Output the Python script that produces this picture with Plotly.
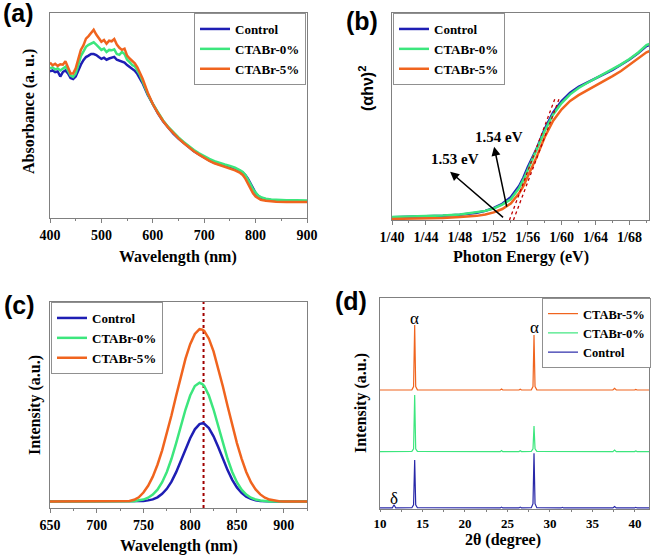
import plotly.graph_objects as go

# ---------------- (a) Absorbance ----------------
wl_a = [400, 405, 410, 415, 420, 425, 430, 435, 440, 445, 450, 455, 460, 465, 470, 475, 480, 485, 490, 495,
        500, 505, 510, 515, 520, 525, 530, 535, 540, 545, 550, 555, 560, 565, 570, 575, 580,
        590, 600, 610, 620, 630, 640, 650, 660, 670, 680, 690, 700, 710, 720, 730, 740, 750, 760,
        770, 775, 780, 785, 790, 795, 800, 805, 810, 820, 830, 840, 860, 880, 900]
abs_control = [.715, .72, .712, .715, .69, .712, .72, .705, .683, .678, .69, .72, .748, .77, .785, .792, .80, .80, .795, .785,
               .776, .782, .772, .778, .783, .786, .772, .766, .762, .758, .746, .736, .727, .718, .702, .682, .658,
               .602, .553, .51, .472, .44, .412, .388, .366, .345, .326, .31, .294, .281, .269, .26, .253, .246, .238,
               .228, .222, .21, .192, .168, .142, .122, .108, .099, .09, .086, .084, .082, .081, .08]
abs_ctab0 = [.73, .735, .725, .73, .72, .73, .738, .72, .695, .688, .705, .745, .79, .812, .835, .845, .852, .857, .846, .835,
             .82, .826, .81, .82, .818, .823, .80, .796, .81, .80, .772, .76, .746, .74, .72, .698, .668,
             .606, .556, .514, .476, .444, .417, .393, .371, .35, .332, .316, .301, .288, .277, .268, .261, .254, .245,
             .232, .224, .21, .19, .165, .14, .122, .11, .102, .094, .09, .088, .087, .086, .085]
abs_ctab5 = [.758, .745, .752, .742, .75, .748, .765, .735, .705, .705, .73, .775, .82, .842, .875, .887, .905, .918, .895, .877,
             .86, .868, .85, .865, .862, .873, .846, .83, .82, .826, .792, .778, .765, .755, .735, .71, .68,
             .612, .556, .512, .473, .441, .413, .388, .366, .345, .326, .309, .293, .279, .267, .258, .25, .242, .232,
             .22, .21, .192, .168, .142, .12, .105, .095, .089, .084, .081, .079, .078, .078, .078]

# ---------------- (b) Tauc plot ----------------
energy_b = [1.40, 1.42, 1.44, 1.46, 1.48, 1.50, 1.51, 1.52, 1.53, 1.54, 1.55, 1.555, 1.56, 1.57, 1.58, 1.59,
            1.60, 1.61, 1.62, 1.63, 1.64, 1.65, 1.66, 1.67, 1.68, 1.69, 1.70, 1.71]
tauc_control = [.013, .015, .017, .02, .025, .035, .044, .058, .078, .11, .165, .205, .255, .34, .44, .52,
                .575, .615, .643, .665, .685, .705, .725, .75, .775, .805, .84, .855]
tauc_ctab0 = [.015, .017, .019, .022, .027, .036, .044, .056, .074, .10, .155, .195, .243, .33, .43, .51,
              .565, .607, .638, .662, .684, .705, .727, .752, .778, .808, .845, .86]
tauc_ctab5 = [.005, .006, .008, .01, .014, .02, .027, .037, .053, .08, .13, .165, .21, .30, .40, .48,
              .535, .575, .603, .625, .648, .67, .695, .72, .75, .78, .81, .825]
tangent1_x = [1.5385, 1.592]
tangent1_y = [0.0, 0.585]
tangent2_x = [1.5432, 1.597]
tangent2_y = [0.0, 0.585]
tick_b_vals = [1.40, 1.44, 1.48, 1.52, 1.56, 1.60, 1.64, 1.68]
tick_b_text = ["1/40", "1/44", "1/48", "1/52", "1/56", "1/60", "1/64", "1/68"]

# ---------------- (c) PL ----------------
wl_c = [650, 700, 725, 730, 735, 740, 745, 750, 755, 760, 765, 770, 775, 780, 785, 790, 795, 800, 805, 810, 813,
        815, 820, 825, 830, 835, 840, 845, 850, 855, 860, 865, 870, 875, 880, 885, 890, 895, 900, 925]
pl_control = [.031, .031, .031, .031, .031, .031, .031, .034, .037, .042, .052, .069, .093, .128, .174, .227, .284, .339, .382, .407, .411,
              .409, .388, .348, .296, .238, .184, .137, .10, .073, .055, .044, .037, .034, .032, .031, .031, .031, .031, .031]
pl_ctab0 = [.031, .031, .031, .031, .032, .033, .038, .041, .050, .065, .089, .125, .175, .239, .315, .397, .478, .546, .592, .608, .602,
            .592, .546, .478, .397, .315, .239, .175, .125, .089, .065, .050, .041, .036, .033, .032, .031, .031, .031, .031]
pl_ctab5 = [.031, .031, .031, .032, .034, .04, .052, .075, .108, .152, .21, .28, .36, .45, .545, .64, .725, .795, .845, .868, .866,
            .86, .822, .76, .68, .59, .495, .40, .315, .24, .175, .125, .09, .066, .05, .041, .036, .033, .031, .031]
pl_peak_line_x = [814.3, 814.3]
pl_peak_line_y = [0.0, 1.0]

# ---------------- (d) XRD ----------------
two_theta = [10.0, 11.45, 11.65, 11.85, 13.75, 13.95, 14.08, 14.2, 14.4, 24.15, 24.3, 24.45, 26.35, 26.5, 26.65,
             27.8, 28.0, 28.12, 28.24, 28.45, 31.3, 31.45, 31.6, 37.4, 37.6, 37.8, 39.95, 40.1, 40.25, 41.65]
xrd_control = [.005, .005, .02, .005, .006, .02, .232, .02, .006, .005, .009, .005, .005, .009, .005,
               .006, .025, .264, .025, .006, .005, .008, .005, .005, .012, .005, .005, .008, .005, .005]
xrd_ctab0 = [.272, .272, .272, .272, .273, .285, .540, .285, .273, .272, .277, .272, .272, .276, .272,
             .273, .285, .393, .285, .273, .272, .275, .272, .272, .279, .272, .272, .275, .272, .272]
xrd_ctab5 = [.564, .564, .564, .564, .565, .58, .872, .58, .565, .564, .569, .564, .564, .568, .564,
             .565, .58, .825, .58, .565, .564, .567, .564, .564, .572, .564, .564, .567, .564, .564]

BLUE = "#1E1EB4"
GREEN = "#3CE67D"
ORANGE = "#F0641E"
BLUE_D = "#2828A8"
SERIF = "Liberation Serif"
SANS = "Liberation Sans"

fig = go.Figure()

def add(x, y, name, color, xa, ya, leg, width=2.5, show=True, dash=None):
    fig.add_trace(go.Scatter(x=x, y=y, name=name, mode="lines",
                             line=dict(color=color, width=width, dash=dash),
                             xaxis=xa, yaxis=ya, legend=leg, showlegend=show))

add(wl_a, abs_control, "Control", BLUE, "x", "y", "legend")
add(wl_a, abs_ctab0, "CTABr-0%", GREEN, "x", "y", "legend")
add(wl_a, abs_ctab5, "CTABr-5%", ORANGE, "x", "y", "legend")

add(energy_b, tauc_control, "Control", BLUE, "x2", "y2", "legend2")
add(energy_b, tauc_ctab0, "CTABr-0%", GREEN, "x2", "y2", "legend2")
add(energy_b, tauc_ctab5, "CTABr-5%", ORANGE, "x2", "y2", "legend2")
add(tangent1_x, tangent1_y, "t1", "#C00000", "x2", "y2", "legend2", width=1.3, show=False, dash="dot")
add(tangent2_x, tangent2_y, "t2", "#C00000", "x2", "y2", "legend2", width=1.3, show=False, dash="dot")

add(pl_peak_line_x, pl_peak_line_y, "peak", "#A00000", "x3", "y3", "legend3", width=2, show=False, dash="dot")
add(wl_c, pl_control, "Control", BLUE, "x3", "y3", "legend3")
add(wl_c, pl_ctab0, "CTABr-0%", GREEN, "x3", "y3", "legend3")
add(wl_c, pl_ctab5, "CTABr-5%", ORANGE, "x3", "y3", "legend3")

add(two_theta, xrd_ctab5, "CTABr-5%", ORANGE, "x4", "y4", "legend4", width=1.2)
add(two_theta, xrd_ctab0, "CTABr-0%", GREEN, "x4", "y4", "legend4", width=1.2)
add(two_theta, xrd_control, "Control", BLUE_D, "x4", "y4", "legend4", width=1.2)

W, H = 652, 557
def px(x):
    return x / W
def py(y):
    return 1 - y / H

tickfont = dict(family=SERIF, size=14, color="black", weight="bold")
base_x = dict(showline=True, mirror=True, linecolor="#808080", linewidth=1, ticks="outside",
              tickcolor="#808080", showgrid=False, zeroline=False)
common_y = dict(showline=True, mirror=True, linecolor="#808080", linewidth=1, ticks="",
                showticklabels=False, showgrid=False, zeroline=False, range=[0, 1])
def minor(d, t0=None):
    m = dict(ticks="outside", ticklen=2, tickcolor="#808080", dtick=d)
    if t0 is not None:
        m["tick0"] = t0
    return m

legfont = dict(family=SERIF, size=13, color="black", weight="bold")
legcommon = dict(bgcolor="white", bordercolor="#909090", borderwidth=1,
                 itemwidth=30, tracegroupgap=0, yanchor="top")

fig.update_layout(
    width=W, height=H, margin=dict(l=0, r=0, t=0, b=0, autoexpand=False),
    paper_bgcolor="white", plot_bgcolor="white",
    xaxis=dict(domain=[px(50), px(307)], anchor="y", range=[400, 900], dtick=100, minor=minor(50),
               ticklen=4, tickfont=tickfont, **base_x),
    yaxis=dict(domain=[py(218), py(13)], anchor="x", **common_y),
    xaxis2=dict(domain=[px(392), px(649)], anchor="y2", range=[1.40, 1.703], tickvals=tick_b_vals,
                ticktext=tick_b_text, minor=minor(0.02, 1.40), ticklen=4, tickfont=tickfont, **base_x),
    yaxis2=dict(domain=[py(220), py(13)], anchor="x2", **common_y),
    xaxis3=dict(domain=[px(50), px(307)], anchor="y3", range=[650, 925], dtick=50, tick0=650,
                minor=minor(25), ticklen=4, tickfont=tickfont, **base_x),
    yaxis3=dict(domain=[py(508), py(302)], anchor="x3", **common_y),
    xaxis4=dict(domain=[px(380), px(649)], anchor="y4", range=[10, 41.65], dtick=5, tick0=10,
                minor=minor(2.5), ticklen=2, tickfont=dict(family=SERIF, size=13, color="black", weight="bold"),
                **base_x),
    yaxis4=dict(domain=[py(509), py(298)], anchor="x4", **common_y),
    legend=dict(x=px(306), xanchor="right", y=py(13), font=legfont, **legcommon),
    legend2=dict(x=px(393), xanchor="left", y=py(13), font=legfont, **legcommon),
    legend3=dict(x=px(51), xanchor="left", y=py(302), font=legfont, **legcommon),
    legend4=dict(x=px(651), xanchor="right", y=py(298),
                 font=dict(family=SERIF, size=12.5, color="black", weight="bold"), **legcommon),
)

titlefont = dict(family=SERIF, size=16, color="black", weight="bold")
annots = [
    dict(text="Wavelength (nm)", x=px(178), y=py(257), font=titlefont),
    dict(text="Absorbance (a. u.)", x=px(29), y=py(112), font=titlefont, textangle=-90),
    dict(text="Photon Energy (eV)", x=px(521), y=py(257), font=titlefont),
    dict(text="(αhν)<sup>2</sup>", x=px(366), y=py(89), font=dict(family=SANS, size=16, color="black", weight="bold"), textangle=-90),
    dict(text="Wavelength (nm)", x=px(179), y=py(546), font=titlefont),
    dict(text="Intensity (a.u.)", x=px(35), y=py(405), font=titlefont, textangle=-90),
    dict(text="2θ (degree)", x=px(503), y=py(540), font=titlefont),
    dict(text="Intensity (a.u.)", x=px(361), y=py(403), font=titlefont, textangle=-90),
]
panelfont = dict(family=SANS, size=25, color="black", weight="bold")
annots += [
    dict(text="(a)", x=px(18), y=py(13), font=panelfont),
    dict(text="(b)", x=px(362), y=py(21), font=panelfont),
    dict(text="(c)", x=px(19), y=py(305), font=panelfont),
    dict(text="(d)", x=px(351), y=py(301), font=panelfont),
]
for a in annots:
    fig.add_annotation(xref="paper", yref="paper", showarrow=False, xanchor="center", yanchor="middle", **a)

# arrows and labels in (b)
fig.add_annotation(xref="x2", yref="y2", axref="x2", ayref="y2", x=1.4685, y=0.233, ax=1.5345, ay=0.0,
                   showarrow=True, arrowhead=2, arrowsize=1.2, arrowwidth=1.5, arrowcolor="black", text=" ")
fig.add_annotation(xref="x2", yref="y2", axref="x2", ayref="y2", x=1.5204, y=0.354, ax=1.5377, ay=0.016,
                   showarrow=True, arrowhead=2, arrowsize=1.2, arrowwidth=1.5, arrowcolor="black", text=" ")
fig.add_annotation(xref="x2", yref="y2", x=1.474, y=0.295, text="1.53 eV", showarrow=False,
                   font=dict(family=SERIF, size=15, color="black", weight="bold"))
fig.add_annotation(xref="x2", yref="y2", x=1.526, y=0.401, text="1.54 eV", showarrow=False,
                   font=dict(family=SERIF, size=15, color="black", weight="bold"))

# labels in (d)
greekfont = dict(family=SERIF, size=17, color="black")
fig.add_annotation(xref="x4", yref="y4", x=14.08, y=0.905, text="α", showarrow=False, font=greekfont)
fig.add_annotation(xref="x4", yref="y4", x=28.12, y=0.86, text="α", showarrow=False, font=greekfont)
fig.add_annotation(xref="x4", yref="y4", x=11.7, y=0.05, text="δ", showarrow=False, font=greekfont)

fig.write_html("out.html", config={"displayModeBar": False},
               post_script="document.body.style.margin='0';document.body.style.padding='0';")
